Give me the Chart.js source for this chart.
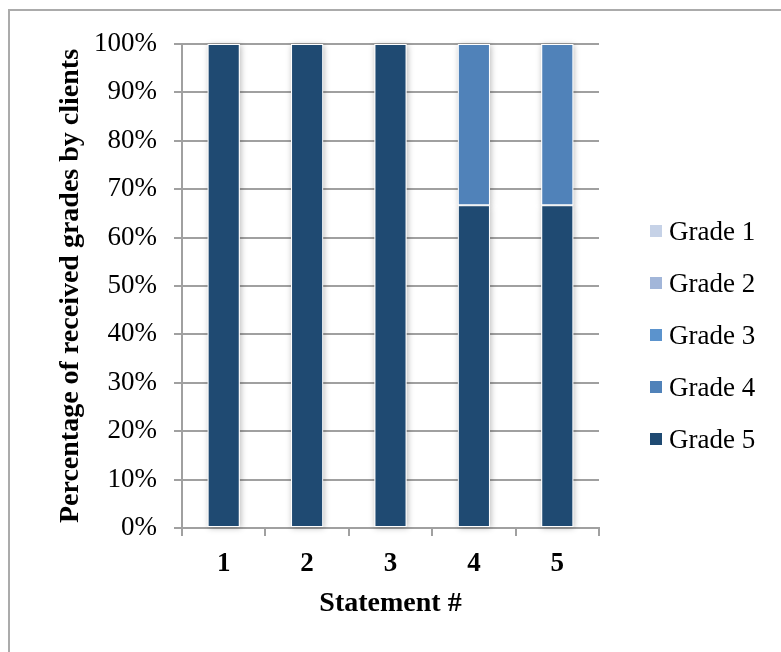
<!DOCTYPE html>
<html>
<head>
<meta charset="utf-8">
<title>Grades by statement</title>
<script src="https://cdn.jsdelivr.net/npm/chart.js@4/dist/chart.umd.min.js"></script>
<style>
  html, body { margin: 0; padding: 0; background: #fff; }
  #wrap { position: relative; width: 781px; height: 652px; overflow: hidden; }
  #frame { position: absolute; left: 8px; top: 9px; width: 800px; height: 700px; border: 2px solid #ababab; }
  #graficaGrados { position: absolute; left: 0; top: 0; }
</style>
</head>
<body>
<div id="wrap">
  <div id="frame"></div>
  <canvas id="graficaGrados" width="781" height="652"></canvas>
</div>
<script>
const statements = ["1", "2", "3", "4", "5"];
const grade5 = [100, 100, 100, 66.67, 66.67];
const grade4 = [0, 0, 0, 33.33, 33.33];
const grade3 = [0, 0, 0, 0, 0];
const grade2 = [0, 0, 0, 0, 0];
const grade1 = [0, 0, 0, 0, 0];

const serif = "'Liberation Serif', 'Times New Roman', serif";
const gridGray = "#a0a0a0";

// soft halo behind each bar, drawn first so the white outlines stay clean
const barShadow = {
  id: "barShadow",
  beforeDatasetsDraw(chart) {
    const ctx = chart.ctx;
    ctx.save();
    ctx.shadowColor = "rgba(0,0,0,0.28)";
    ctx.shadowBlur = 6;
    ctx.shadowOffsetX = 1;
    ctx.shadowOffsetY = 1;
    ctx.fillStyle = "#ffffff";
    chart.data.datasets.forEach((ds, i) => {
      chart.getDatasetMeta(i).data.forEach((bar) => {
        const top = Math.min(bar.y, bar.base);
        const h = Math.abs(bar.base - bar.y);
        if (h > 0) ctx.fillRect(bar.x - bar.width / 2, top, bar.width, h);
      });
    });
    ctx.restore();
  }
};

// legend on the right, Grade 1 at the top
const gradeLegend = {
  id: "gradeLegend",
  afterDraw(chart) {
    const ctx = chart.ctx;
    const items = chart.data.datasets.slice().reverse();
    ctx.save();
    ctx.font = "27px " + serif;
    ctx.textBaseline = "middle";
    ctx.fillStyle = "#000";
    items.forEach((ds, i) => {
      const y = 232 + i * 52;
      ctx.fillStyle = ds.backgroundColor;
      ctx.fillRect(650, y - 7, 12, 12);
      ctx.fillStyle = "#000";
      ctx.fillText(ds.label, 669, y + 1);
    });
    ctx.restore();
  }
};

const ctx = document.getElementById("graficaGrados").getContext("2d");
new Chart(ctx, {
  type: "bar",
  data: {
    labels: statements,
    datasets: [
      { label: "Grade 5", data: grade5, backgroundColor: "#1f4a72" },
      { label: "Grade 4", data: grade4, backgroundColor: "#5082b9" },
      { label: "Grade 3", data: grade3, backgroundColor: "#5b93cd" },
      { label: "Grade 2", data: grade2, backgroundColor: "#a2b6d9" },
      { label: "Grade 1", data: grade1, backgroundColor: "#c6d2e7" },
    ],
  },
  options: {
    responsive: false,
    animation: false,
    devicePixelRatio: 1,
    layout: { padding: { left: 54, top: 44, right: 182, bottom: 20 } },
    datasets: {
      bar: {
        barPercentage: 0.385,
        categoryPercentage: 1,
        borderWidth: 1,
        borderColor: "#ffffff",
        borderSkipped: false,
      }
    },
    plugins: {
      legend: { display: false },
      tooltip: { enabled: false },
    },
    scales: {
      x: {
        stacked: true,
        offset: true,
        grid: {
          offset: true,
          drawOnChartArea: false,
          drawTicks: true,
          tickLength: 8,
          color: gridGray,
          lineWidth: 2,
        },
        border: { color: gridGray, width: 2 },
        ticks: {
          color: "#000",
          padding: 12,
          font: { family: serif, size: 27, weight: "bold" },
        },
        title: {
          display: true,
          text: "Statement #",
          color: "#000",
          padding: { top: 0, bottom: 11 },
          font: { family: serif, size: 28, weight: "bold" },
        },
        afterFit(scale) { scale.height = 104; },
      },
      y: {
        stacked: true,
        min: 0,
        max: 100,
        grid: { color: gridGray, lineWidth: 2, tickLength: 8 },
        border: { color: gridGray, width: 2 },
        ticks: {
          stepSize: 10,
          color: "#000",
          padding: 17,
          font: { family: serif, size: 27 },
          callback: (v) => v + "%",
        },
        title: {
          display: true,
          text: "Percentage of received grades by clients",
          color: "#000",
          padding: { top: 0, bottom: 0 },
          font: { family: serif, size: 28, weight: "bold" },
        },
        afterFit(scale) { scale.width = 128; },
      },
    },
  },
  plugins: [barShadow, gradeLegend],
});
</script>
</body>
</html>
